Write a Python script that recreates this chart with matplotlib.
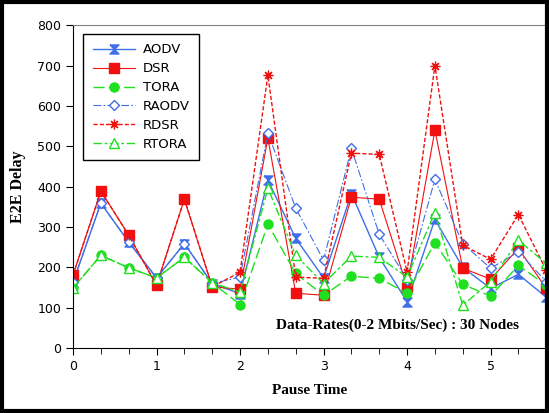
import numpy as np
import matplotlib.pyplot as plt
from matplotlib.path import Path
from matplotlib.patches import Rectangle

pause = np.arange(18) / 3.0
aodv = [163, 359, 263, 174, 259, 160, 135, 416, 272, 174, 383, 225, 115, 319, 200, 148, 183, 126]
dsr = [181, 389, 280, 156, 369, 152, 146, 520, 136, 131, 374, 369, 152, 540, 198, 171, 247, 148]
tora = [149, 230, 199, 174, 225, 162, 108, 307, 185, 131, 178, 173, 136, 261, 158, 129, 205, 156]
raodv = [163, 359, 263, 174, 259, 160, 176, 533, 347, 218, 495, 282, 170, 418, 259, 198, 238, 165]
rdsr = [181, 389, 280, 156, 369, 152, 188, 676, 176, 173, 483, 480, 189, 700, 255, 220, 331, 193]
rtora = [149, 230, 199, 174, 225, 162, 139, 396, 230, 160, 228, 225, 176, 336, 106, 165, 267, 210]

blue = '#3f6fe8'
red = '#f01010'
green = '#1ee01e'
sans = ['Liberation Sans Narrow', 'DejaVu Sans']

hourglass = Path([(-1, 1), (1, 1), (0, 0), (1, -1), (-1, -1), (0, 0), (-1, 1)])

fig = plt.figure(figsize=(5.49, 4.13), dpi=100)
ax = fig.add_axes([0.133, 0.157, 0.862, 0.782])

ax.plot(pause, aodv, color=blue, lw=1, marker=hourglass, ms=6.5, label='AODV')
ax.plot(pause, dsr, color=red, lw=0.8, marker='s', ms=6.5, label='DSR')
ax.plot(pause, tora, color=green, lw=1, ls=(0, (8, 3)), marker='o', ms=6.5, label='TORA')
ax.plot(pause, raodv, color=blue, lw=0.8, ls=(0, (7, 2, 1.5, 2)), marker='D', ms=5,
        mfc='white', mec=blue, label='RAODV')
ax.plot(pause, rdsr, color=red, lw=1, ls=(0, (3, 1.5)), marker=(8, 2, 0), ms=7,
        mec=red, mew=0.9, label='RDSR')
ax.plot(pause, rtora, color=green, lw=1, ls=(0, (6, 2, 2, 2)), marker='^', ms=6.5,
        mfc='white', mec=green, label='RTORA')

ax.set_xlim(0, 17 / 3)
ax.set_ylim(0, 800)
ax.set_xticks(range(6))
ax.set_xticks(pause, minor=True)
ax.set_yticks(range(0, 801, 100))
ax.tick_params(direction='out', length=5, labelsize=9)
ax.tick_params(which='minor', direction='out', length=4)
for lbl in ax.get_xticklabels() + ax.get_yticklabels():
    lbl.set_family(sans)

ax.spines['top'].set_color('#808080')
ax.spines['right'].set_color('#808080')

ax.set_xlabel('Pause Time', family='Liberation Serif', fontweight='bold', fontsize=11, labelpad=8)
ax.set_ylabel('E2E Delay', family='Liberation Serif', fontweight='bold', fontsize=11.5, labelpad=8)

ax.text(3.88, 57, 'Data-Rates(0-2 Mbits/Sec) : 30 Nodes', family='Liberation Serif',
        fontweight='bold', fontsize=11, ha='center', va='center')

leg = ax.legend(loc='upper left', bbox_to_anchor=(0.008, 0.993), handlelength=3.2,
                fancybox=False, framealpha=1, edgecolor='black', borderpad=0.7,
                labelspacing=0.45, handletextpad=0.6,
                prop={'family': sans, 'size': 9.5})
leg.get_frame().set_linewidth(1)

fig.patches.append(Rectangle((0.004, 0.004), 0.993, 0.992, transform=fig.transFigure,
                             fill=False, edgecolor='black', lw=3))

fig.savefig('out.png', dpi=100)
